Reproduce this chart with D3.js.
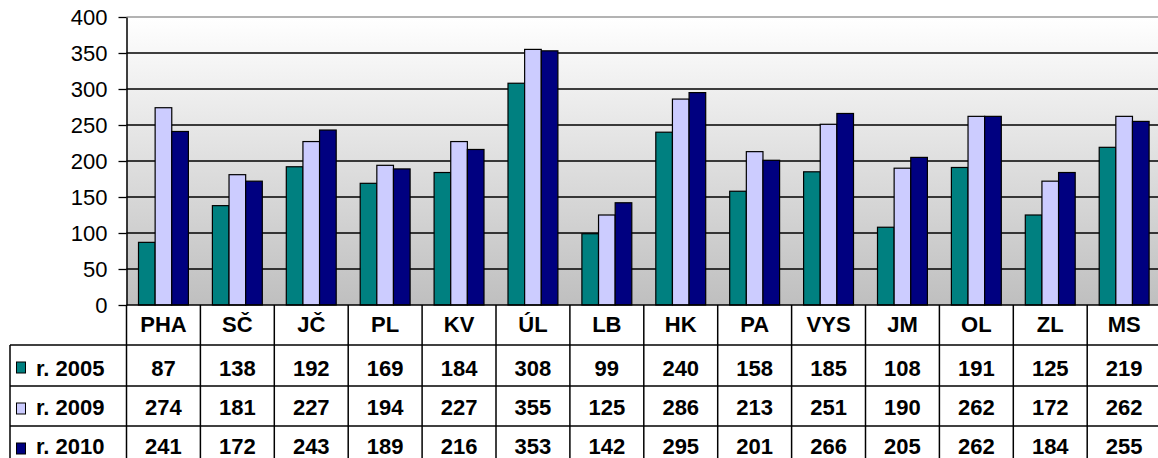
<!DOCTYPE html>
<html>
<head>
<meta charset="utf-8">
<script src="https://cdn.jsdelivr.net/npm/d3@7"></script>
<style>
  body { margin: 0; background: #fff; }
  svg { display: block; font-family: Arial, "Liberation Sans", sans-serif; }
</style>
</head>
<body>
<div id="chart"></div>
<script>
// data
const regions = ['PHA', 'SČ', 'JČ', 'PL', 'KV', 'ÚL', 'LB', 'HK', 'PA', 'VYS', 'JM', 'OL', 'ZL', 'MS'];
const seriesNames = ['r. 2005', 'r. 2009', 'r. 2010'];
const values2005 = [87, 138, 192, 169, 184, 308, 99, 240, 158, 185, 108, 191, 125, 219];
const values2009 = [274, 181, 227, 194, 227, 355, 125, 286, 213, 251, 190, 262, 172, 262];
const values2010 = [241, 172, 243, 189, 216, 353, 142, 295, 201, 266, 205, 262, 184, 255];
const seriesColors = ['#008080', '#ccccff', '#000080'];
const yTicks = [0, 50, 100, 150, 200, 250, 300, 350, 400];

const series = [values2005, values2009, values2010];

const width = 1158, height = 458;
const margin = {top: 17, left: 126.5, bottom: 305};
const bandW = 73.9;
const tableLeft = 10;
const rowTops = [305, 345, 386, 426];
const baselines = [332, 376, 415, 454];

const svg = d3.select('#chart').append('svg')
    .attr('width', width)
    .attr('height', height);

let defs = svg.append('defs');
let grad = defs.append('linearGradient').attr('id', 'bg').attr('x1', 0).attr('y1', 0).attr('x2', 0).attr('y2', 1);
grad.append('stop').attr('offset', '0%').attr('stop-color', '#ffffff');
grad.append('stop').attr('offset', '100%').attr('stop-color', '#bfbfbf');

let xScale = d3.scaleBand()
    .domain(regions)
    .range([margin.left, margin.left + bandW * regions.length])
    .paddingInner(0).paddingOuter(0);

let xSub = d3.scaleBand()
    .domain(d3.range(series.length))
    .range([12, xScale.bandwidth() - 12]);

let yScale = d3.scaleLinear()
    .domain([0, 400])
    .range([margin.bottom, margin.top]);

// plot background
svg.append('rect')
    .attr('x', margin.left).attr('y', margin.top)
    .attr('width', xScale.range()[1] - margin.left)
    .attr('height', margin.bottom - margin.top)
    .attr('fill', 'url(#bg)');

// gridlines
svg.append('g').selectAll('line').data(yTicks.filter(d => d > 0))
    .enter().append('line')
    .attr('x1', margin.left).attr('x2', xScale.range()[1])
    .attr('y1', d => yScale(d)).attr('y2', d => yScale(d))
    .attr('stroke', d => d === 400 ? '#9a9a9a' : '#000')
    .attr('stroke-width', 1.3);

// bars
let groups = svg.append('g').selectAll('g').data(regions)
    .enter().append('g')
    .attr('transform', d => 'translate(' + xScale(d) + ',0)');

groups.selectAll('rect')
    .data((d, i) => series.map((s, k) => ({k: k, v: s[i]})))
    .enter().append('rect')
    .attr('x', d => xSub(d.k))
    .attr('width', xSub.bandwidth())
    .attr('y', d => yScale(d.v))
    .attr('height', d => yScale(0) - yScale(d.v))
    .attr('fill', d => seriesColors[d.k])
    .attr('stroke', '#000')
    .attr('stroke-width', 1.2);

// y axis
let yAxis = d3.axisLeft(yScale).tickValues(yTicks).tickSize(8).tickSizeOuter(0).tickPadding(11);
let yG = svg.append('g')
    .attr('transform', 'translate(' + margin.left + ',0)')
    .call(yAxis);
yG.select('.domain').attr('stroke', '#000').attr('stroke-width', 1.5);
yG.selectAll('.tick line').attr('stroke', '#000').attr('stroke-width', 1.3);
yG.selectAll('.tick text')
    .attr('fill', '#000')
    .style('font-size', '22px')
    .style('font-family', 'Arial, "Liberation Sans", sans-serif');

// data table
let table = svg.append('g').attr('class', 'table');
let right = xScale.range()[1];

// horizontal lines
table.append('line')
    .attr('x1', margin.left).attr('x2', right)
    .attr('y1', margin.bottom).attr('y2', margin.bottom)
    .attr('stroke', '#000').attr('stroke-width', 1.5);
table.selectAll('.hline').data(rowTops.slice(1))
    .enter().append('line').attr('class', 'hline')
    .attr('x1', tableLeft).attr('x2', right)
    .attr('y1', d => d).attr('y2', d => d)
    .attr('stroke', '#000').attr('stroke-width', 1.5);

// vertical lines
table.selectAll('.vline').data(regions.concat(['end']))
    .enter().append('line').attr('class', 'vline')
    .attr('x1', (d, i) => margin.left + i * bandW)
    .attr('x2', (d, i) => margin.left + i * bandW)
    .attr('y1', margin.bottom).attr('y2', height)
    .attr('stroke', '#000').attr('stroke-width', 1.5);
table.append('line')
    .attr('x1', tableLeft).attr('x2', tableLeft)
    .attr('y1', rowTops[1]).attr('y2', height)
    .attr('stroke', '#000').attr('stroke-width', 1.5);

// header row
table.selectAll('.hdr').data(regions)
    .enter().append('text').attr('class', 'hdr')
    .attr('x', d => xScale(d) + xScale.bandwidth() / 2)
    .attr('y', baselines[0])
    .attr('text-anchor', 'middle')
    .style('font-size', '22px').style('font-weight', 'bold')
    .text(d => d);

// value rows
series.forEach((s, k) => {
    let y0 = rowTops[k + 1];
    table.append('rect')
        .attr('x', 16.5).attr('y', y0 + 17)
        .attr('width', 9).attr('height', 11)
        .attr('fill', seriesColors[k])
        .attr('stroke', '#000').attr('stroke-width', 1);
    table.append('text')
        .attr('x', 36).attr('y', baselines[k + 1])
        .style('font-size', '22px').style('font-weight', 'bold')
        .text(seriesNames[k]);
    table.selectAll('.v' + k).data(s)
        .enter().append('text').attr('class', 'v' + k)
        .attr('x', (d, i) => xScale(regions[i]) + xScale.bandwidth() / 2)
        .attr('y', baselines[k + 1])
        .attr('text-anchor', 'middle')
        .style('font-size', '22px').style('font-weight', 'bold')
        .text(d => d);
});
</script>
</body>
</html>
